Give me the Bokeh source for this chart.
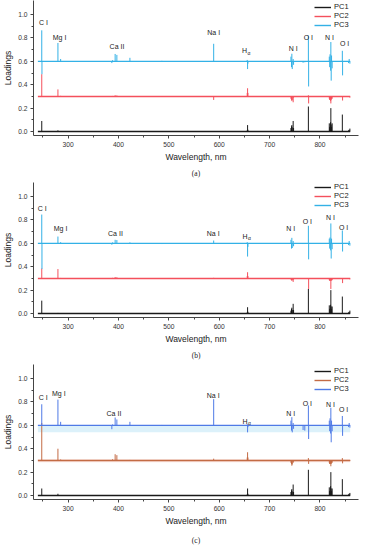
from bokeh.plotting import figure
from bokeh.layouts import column
from bokeh.models import Range1d, FixedTicker, Legend, LegendItem, Title, PrintfTickFormatter
from bokeh.core.properties import value
from bokeh.embed import file_html
from bokeh.resources import INLINE

# ---------------- data ----------------
# stick positions (nm) of the emission lines seen in the loadings
STICK_WL = [247.7, 248.1,            # C I
            279.8, 280.4, 285.2,     # Mg I
            386.8, 388.3,            # CN
            393.4, 396.8,            # Ca II
            422.7, 486.1,            # Ca I, H beta
            589.0, 589.6,            # Na I
            655.6, 656.3, 657.0,     # H alpha
            742.4, 743.5, 744.2, 745.0, 746.8, 747.6,   # N I
            766.5, 769.9,            # K I
            777.0, 777.5,            # O I
            818.5, 819.3, 820.0, 821.1, 821.6, 822.3, 823.0, 824.2,  # N I
            844.4, 844.9,            # O I
            856.8, 858.0, 859.4]

WL_START = 240
WL_END = 860
OFFSETS = [0.0, 0.3, 0.6]
SERIES = ["PC1", "PC2", "PC3"]

A_PC1 = [0.090, 0, 0.010, 0, 0.003, 0, 0.002, 0.004, 0.003, 0.002, 0.002, 0.004, 0,
         0.010, 0.055, 0.015, 0.030, 0.045, 0.055, 0.035, 0.090, 0.030, 0.004, 0.004,
         0.214, 0, 0.070, 0.040, 0.030, 0.080, 0.200, 0.060, 0.040, 0.070, 0.145, 0,
         0.010, 0.015, 0.025]
A_PC2 = [0.190, 0, 0.060, 0, 0.005, 0, 0.004, 0.010, 0.008, 0.003, 0.002, -0.030, 0,
         0.030, 0.070, 0.030, -0.020, -0.030, -0.040, -0.030, -0.050, -0.010, 0, 0,
         0.010, -0.060, -0.020, -0.030, -0.030, -0.040, -0.060, -0.030, -0.020, -0.020, 0, -0.035,
         0, 0, -0.010]
A_PC3 = [0.265, -0.110, 0.157, 0, 0.020, -0.015, 0.010, 0.063, 0.055, 0.030, 0.004, 0.150, 0,
         0.012, -0.066, -0.020, 0.040, -0.050, 0.065, -0.066, 0.020, -0.030, -0.012, -0.008,
         0.220, -0.215, 0.040, -0.050, 0.060, -0.080, 0.165, -0.165, 0.050, -0.060, 0.090, -0.120,
         -0.015, 0.020, -0.020]

B_PC1 = [0.110, 0, 0.005, 0, 0, 0, 0.002, 0.003, 0.003, 0.002, 0.002, 0.002, 0,
         0.010, 0.054, 0.015, 0.025, 0.040, 0.050, 0.030, 0.083, 0.030, 0.003, 0.003,
         0.210, 0, 0.070, 0.040, 0.030, 0.075, 0.200, 0.060, 0.040, 0.060, 0.145, 0,
         0.010, 0.015, 0.025]
B_PC2 = [0.085, 0, 0.080, 0, 0.004, 0, 0.005, 0.012, 0.010, 0.003, 0.003, 0.005, 0,
         0.020, 0.053, 0.020, -0.010, -0.015, -0.020, -0.015, -0.030, -0.010, 0, 0,
         0, -0.090, -0.015, -0.020, -0.020, -0.020, -0.090, -0.020, -0.015, -0.015, 0, -0.040,
         0, 0, -0.008]
B_PC3 = [0.246, -0.220, 0.058, 0, 0.010, -0.012, 0.008, 0.030, 0.028, 0.008, -0.006, 0.024, 0,
         0.010, -0.113, -0.030, 0.030, -0.045, 0.047, -0.040, 0.020, -0.025, -0.006, -0.006,
         0.150, -0.137, 0.040, -0.045, 0.050, -0.060, 0.170, -0.130, 0.040, -0.050, 0.110, -0.070,
         -0.015, 0.020, -0.020]

C_PC1 = [0.060, 0, 0.015, 0, 0.003, 0, 0.002, 0.003, 0.003, 0.002, 0.002, 0.003, 0,
         0.010, 0.060, 0.015, 0.030, 0.045, 0.055, 0.035, 0.094, 0.030, 0.003, 0.003,
         0.220, 0, 0.070, 0.040, 0.030, 0.080, 0.200, 0.060, 0.040, 0.060, 0.140, 0,
         0.010, 0.015, 0.022]
C_PC2 = [0.320, 0, 0.100, 0, 0.008, 0, 0.010, 0.053, 0.045, 0.004, 0.003, 0.015, 0,
         0.025, 0.070, 0.025, -0.020, -0.030, -0.045, -0.035, -0.020, -0.010, -0.005, -0.005,
         0.020, -0.030, -0.020, -0.030, -0.030, -0.030, -0.050, -0.030, -0.020, -0.020, 0.020, -0.025,
         0, 0, -0.005]
C_PC3 = [0.180, 0, 0.220, 0, 0.030, -0.033, 0.008, 0.067, 0.050, 0.030, 0.003, 0.224, 0,
         0.010, -0.060, -0.015, 0.040, -0.045, 0.070, -0.060, 0.020, -0.030, -0.040, -0.045,
         0.170, -0.117, 0.040, -0.050, 0.060, -0.070, 0.150, -0.145, 0.040, -0.050, 0.080, -0.090,
         -0.015, 0.020, -0.020]

# shaded bands in panel (c)
C_BANDS = [(0.285, 0.310, "#fbe4df"), (0.540, 0.600, "#dcf1fa")]

LABEL_TEXT = ["C I", "Mg I", "Ca II", "Na I", "H", "N I", "O I", "N I", "O I"]
A_LABEL_X = [251, 283, 397, 589, 650, 747, 777, 819, 849]
A_LABEL_Y = [0.934, 0.806, 0.726, 0.843, 0.69, 0.712, 0.806, 0.806, 0.75]
B_LABEL_X = [248.5, 285, 394, 588, 651, 742, 775, 821, 847]
B_LABEL_Y = [0.895, 0.724, 0.688, 0.682, 0.66, 0.724, 0.787, 0.824, 0.739]
C_LABEL_X = [250.5, 281.5, 391, 588, 651, 742, 775, 821, 847]
C_LABEL_Y = [0.838, 0.875, 0.705, 0.858, 0.636, 0.705, 0.787, 0.78, 0.738]

X_TICKS = [300, 400, 500, 600, 700, 800]
X_MINOR = [250, 350, 450, 550, 650, 750, 850]
Y_TICKS = [0.0, 0.2, 0.4, 0.6, 0.8, 1.0]
Y_MINOR = [0.1, 0.3, 0.5, 0.7, 0.9]

COLORS_AB = ["#1a1a1a", "#f4505c", "#33b1e6"]
COLORS_C = ["#1a1a1a", "#c36b45", "#4f7ae6"]

X_MIN, X_MAX = 231.3, 876.5
Y_MIN, Y_MAX = -0.034, 1.12
FONT = "Liberation Sans"
FRAME_H = 135
LEG_H = 24


def make_panel(tag, loads, colors, lab_x, lab_y, height, top, bottom, legend_top,
               cap_standoff, bands=None):
    p = figure(width=360, height=height, output_backend="svg", toolbar_location=None,
               x_range=Range1d(X_MIN, X_MAX), y_range=Range1d(Y_MIN, Y_MAX),
               min_border_left=32, min_border_right=2, min_border_top=top,
               min_border_bottom=bottom)
    p.outline_line_color = None
    p.grid.visible = False

    if bands:
        for lo, hi, col in bands:
            p.varea(x=[WL_START, WL_END], y1=[lo, lo], y2=[hi, hi], fill_color=col)

    items = []
    n = len(STICK_WL)
    for k, (vals, col) in enumerate(zip(loads, colors)):
        off = OFFSETS[k]
        base = p.line(x=[WL_START, WL_END], y=[off, off], line_color=col, line_width=1.4)
        p.segment(x0=STICK_WL, y0=[off] * n, x1=STICK_WL, y1=[off + v for v in vals],
                  line_color=col, line_width=1.0)
        items.append(LegendItem(label=SERIES[k], renderers=[base]))

    p.text(x=lab_x, y=lab_y, text=LABEL_TEXT, text_align="center", text_baseline="middle",
           text_font=value(FONT), text_font_size="7px", text_color="#222222")
    # subscript alpha of H alpha
    p.text(x=[lab_x[4]], y=[lab_y[4]], text=["α"], text_align="left", text_baseline="middle",
           x_offset=3, y_offset=2, text_font=value(FONT), text_font_size="5px",
           text_color="#222222")

    legend = Legend(items=items, location=(281, FRAME_H - legend_top - LEG_H))
    legend.glyph_width = 17
    legend.glyph_height = 8
    legend.label_height = 8
    legend.label_standoff = 3
    legend.label_text_font = FONT
    legend.label_text_font_size = "7.5px"
    legend.label_text_color = "#222222"
    legend.spacing = 0
    legend.padding = 0
    legend.margin = 0
    legend.background_fill_alpha = 0
    legend.border_line_alpha = 0
    p.add_layout(legend)

    p.xaxis.ticker = FixedTicker(ticks=X_TICKS, minor_ticks=X_MINOR)
    p.yaxis.ticker = FixedTicker(ticks=Y_TICKS, minor_ticks=Y_MINOR)
    p.yaxis.formatter = PrintfTickFormatter(format="%.1f")
    p.xaxis.axis_label = "Wavelength, nm"
    p.yaxis.axis_label = "Loadings"
    for ax in p.axis:
        ax.major_tick_out = 3
        ax.major_tick_in = 0
        ax.minor_tick_out = 2
        ax.minor_tick_in = 0
        ax.axis_line_color = "#444444"
        ax.major_tick_line_color = "#444444"
        ax.minor_tick_line_color = "#444444"
        ax.major_label_text_font = FONT
        ax.major_label_text_font_size = "6.7px"
        ax.major_label_text_color = "#333333"
        ax.major_label_standoff = 3
        ax.axis_label_text_font = FONT
        ax.axis_label_text_font_size = "8.5px"
        ax.axis_label_text_font_style = "normal"
        ax.axis_label_text_color = "#222222"
        ax.axis_label_standoff = 2

    cap = Title(text=tag, align="center", text_font="Liberation Serif",
                text_font_size="7.5px", text_font_style="normal", text_color="#222222",
                standoff=cap_standoff)
    p.add_layout(cap, "below")
    return p


pa = make_panel("(a)", [A_PC1, A_PC2, A_PC3], COLORS_AB, A_LABEL_X, A_LABEL_Y,
                180, 0, 45, 5, 4)
pb = make_panel("(b)", [B_PC1, B_PC2, B_PC3], COLORS_AB, B_LABEL_X, B_LABEL_Y,
                182, 2, 45, 3, 4)
pc = make_panel("(c)", [C_PC1, C_PC2, C_PC3], COLORS_C, C_LABEL_X, C_LABEL_Y,
                188, 2, 51, 5, 10, bands=C_BANDS)

layout = column(pa, pb, pc, spacing=0)
open("out.html", "w").write(file_html(layout, INLINE))
